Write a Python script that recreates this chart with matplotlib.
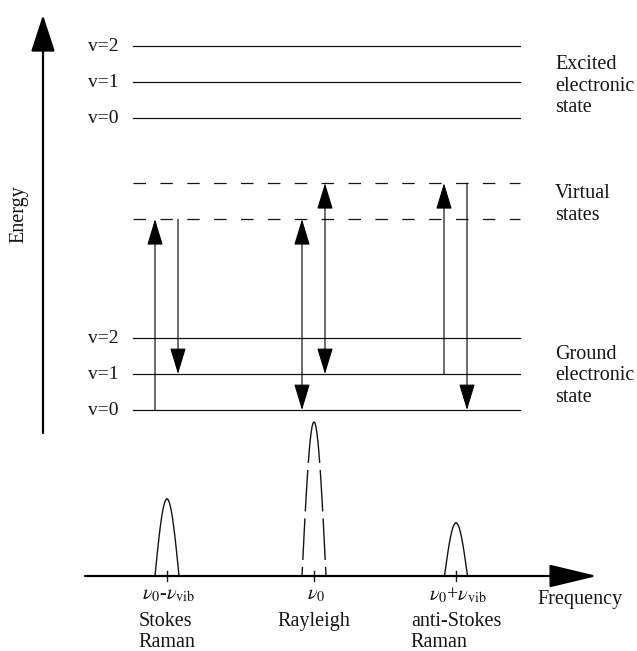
import numpy as np
import matplotlib
matplotlib.use("Agg")
import matplotlib.pyplot as plt

plt.rcParams['font.family'] = ['Liberation Serif', 'DejaVu Serif']
plt.rcParams['mathtext.fontset'] = 'stix'

# vibrational levels (energy units = one vibrational quantum)
ground_levels = [0, 1, 2]
virtual_levels = [5.3, 6.3]
excited_levels = [8.1, 9.1, 10.1]
level_labels = ['v=0', 'v=1', 'v=2']

# scattered light: relative intensities
peak_names = ['Stokes', 'Rayleigh', 'anti-Stokes']
peak_intensity = [0.5, 1.0, 0.345]
peak_ticks = [r'$\nu_0$-$\nu_{\rm vib}$', r'$\nu_0$', r'$\nu_0$+$\nu_{\rm vib}$']
peak_captions = ['Stokes\nRaman', 'Rayleigh', 'anti-Stokes\nRaman']

W, H = 637, 651
fig = plt.figure(figsize=(W / 100, H / 100), dpi=100)

# energy diagram: x in pixels, y in energy units (v=0 at 410 px, 36 px per quantum)
ax = fig.add_axes([0, 0, 1, 1])
ax.set_xlim(0, W)
ax.set_ylim((410 - H) / 36, 410 / 36)
ax.axis('off')

# spectrum: same x, y in intensity (baseline at 576 px, 154 px per unit)
sx = fig.add_axes([0, 0, 1, 1])
sx.set_xlim(0, W)
sx.set_ylim((576 - H) / 154, 576 / 154)
sx.axis('off')
sx.patch.set_alpha(0)

ink = '#151515'
fs = 14.5
x0, x1 = 133, 520

# energy axis
ax.annotate('', xy=(43, 410 / 36 - 15 / 36), xytext=(43, (410 - 433) / 36),
            arrowprops=dict(arrowstyle='-|>,head_length=2.3,head_width=0.75',
                            mutation_scale=10, lw=1.6, color='black',
                            shrinkA=0, shrinkB=0))
ax.text(19, (410 - 214) / 36, 'Energy', rotation=90, ha='center', va='center',
        fontsize=fs, color=ink)

for levels in (ground_levels, excited_levels):
    for e, lab in zip(levels, level_labels):
        ax.plot([x0, x1], [e, e], color=ink, lw=0.9)
        ax.text(119, e, lab, ha='right', va='center', fontsize=fs - 0.5, color=ink)

for e in virtual_levels:
    ax.plot([x0, x1], [e, e], color=ink, lw=0.9, dashes=(10, 11.5))

# transitions: (x, from, to, style)
lo, hi = virtual_levels
transitions = [
    (155, 0, lo, '-|>'),
    (178, lo, 1, '-|>'),
    (302, 0, lo, '<|-|>'),
    (325, 1, hi, '<|-|>'),
    (444, 1, hi, '-|>'),
    (467, hi, 0, '-|>'),
]
for x, e_from, e_to, style in transitions:
    ax.annotate('', xy=(x, e_to), xytext=(x, e_from),
                arrowprops=dict(arrowstyle=style + ',head_length=1.65,head_width=0.5',
                                mutation_scale=10, lw=0.8, color='black',
                                shrinkA=0, shrinkB=0))

state_kw = dict(ha='left', va='center', fontsize=fs, color=ink, linespacing=1.2)
ax.text(555, 9.0, 'Excited\nelectronic\nstate', **state_kw)
ax.text(555, 5.7, 'Virtual\nstates', **state_kw)
ax.text(555, 0.95, 'Ground\nelectronic\nstate', **state_kw)

# frequency axis
sx.annotate('', xy=(597, 0), xytext=(85, 0),
            arrowprops=dict(arrowstyle='-|>,head_length=3.0,head_width=0.72',
                            mutation_scale=10, lw=1.6, color='black',
                            shrinkA=0, shrinkB=0))
sx.text(537, -0.155, 'Frequency', ha='left', va='center', fontsize=fs, color=ink)

centers = [167, 314, 456]
halfw = [12, 12, 11.5]
for c, a, h, tick, cap, name in zip(centers, halfw, peak_intensity,
                                    peak_ticks, peak_captions, peak_names):
    # each flank drawn from the top down so a dashed outline starts solid at the apex
    for side in (-1, 1):
        xs = c + side * np.linspace(0, a, 60)
        ys = h * np.cos(np.pi / 2 * (xs - c) / a)
        if name == 'Rayleigh':
            sx.plot(xs, ys, color=ink, lw=1.0, dashes=(30, 5))
        else:
            sx.plot(xs, ys, color=ink, lw=1.0)
    sx.plot([c, c], [-0.03, 0.03], color=ink, lw=1.0)
    sx.text(c + 2, -0.125, tick, ha='center', va='center', fontsize=fs, color=ink)
    sx.text(c, -0.235, cap, ha='center', va='top', fontsize=fs, color=ink,
            linespacing=1.13, multialignment='left')

fig.savefig('out.png', dpi=100)
